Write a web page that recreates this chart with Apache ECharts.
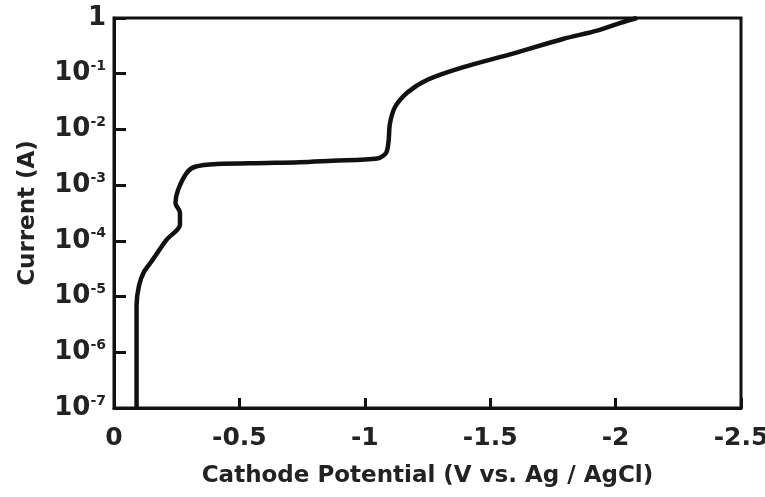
<!DOCTYPE html>
<html>
<head>
<meta charset="utf-8">
<script src="https://cdn.jsdelivr.net/npm/echarts@6/dist/echarts.min.js"></script>
<style>
  html, body { margin: 0; padding: 0; background: #fff; }
  #chart { width: 765px; height: 497px; }
</style>
</head>
<body>
<div id="chart"></div>
<script>
// cathode potential (V vs. Ag/AgCl) and current (A)
var potential = [-0.09, -0.09, -0.1, -0.12, -0.15, -0.21, -0.263, -0.263, -0.245, -0.255, -0.29, -0.323,
  -0.41, -0.61, -0.74, -0.87, -1.05, -1.085, -1.095, -1.10, -1.12, -1.17, -1.25, -1.39,
  -1.59, -1.79, -1.93, -2.02, -2.085];
var current = [1e-7, 7e-6, 1.6e-5, 2.8e-5, 4.3e-5, 1.05e-4, 1.95e-4, 3.2e-4, 4.8e-4, 8.1e-4, 1.66e-3, 2.14e-3,
  2.4e-3, 2.5e-3, 2.58e-3, 2.75e-3, 3.0e-3, 3.8e-3, 6.3e-3, 1.26e-2, 2.5e-2, 4.6e-2, 7.8e-2, 0.13,
  0.23, 0.42, 0.6, 0.82, 1.0];

var xTicks = [0, -0.5, -1, -1.5, -2, -2.5];

var chart = echarts.init(document.getElementById("chart"));
var font = "DejaVu Sans";

var option = {
  animation: false,
  grid: {
    left: 114,
    right: 24,
    top: 18,
    bottom: 89,
    outerBoundsMode: "none",
    show: true,
    borderColor: "#111",
    borderWidth: 3,
  },
  xAxis: {
    type: "value",
    inverse: true,
    min: -2.5,
    max: 0,
    interval: 0.5,
    name: "Cathode Potential (V vs. Ag / AgCl)",
    nameLocation: "middle",
    nameGap: 57,
    nameTextStyle: { fontFamily: font, fontWeight: "bold", fontSize: 23, color: "#222" },
    axisLine: { show: true, lineStyle: { color: "#111", width: 3 } },
    axisTick: { show: true, inside: true, length: 10, lineStyle: { color: "#111", width: 3 } },
    splitLine: { show: false },
    axisLabel: {
      margin: 18,
      fontFamily: font,
      fontWeight: "bold",
      fontSize: 25,
      color: "#222",
      formatter: function (v) {
        return xTicks.indexOf(v) >= 0 ? String(v) : "";
      },
    },
  },
  yAxis: {
    type: "log",
    logBase: 10,
    min: 1e-7,
    max: 1,
    name: "Current (A)",
    nameLocation: "middle",
    nameGap: 74,
    nameTextStyle: { fontFamily: font, fontWeight: "bold", fontSize: 23, color: "#222" },
    axisLine: { show: true, lineStyle: { color: "#111", width: 3 } },
    axisTick: { show: true, inside: true, length: 12, lineStyle: { color: "#111", width: 3 } },
    splitLine: { show: false },
    axisLabel: {
      margin: 8,
      color: "#222",
      formatter: function (v) {
        var e = Math.round(Math.log10(v));
        if (e === 0) return "{b|1}";
        return "{b|10}{s|" + e + "}";
      },
      rich: {
        b: { fontFamily: font, fontWeight: "bold", fontSize: 26, color: "#222", lineHeight: 28 },
        s: { fontFamily: font, fontWeight: "bold", fontSize: 14, color: "#222", verticalAlign: "top", padding: [0, 0, 12, 0] },
      },
    },
  },
  series: [
    {
      type: "line",
      data: potential.map(function (p, i) { return [p, current[i]]; }),
      smooth: 0.3,
      showSymbol: false,
      lineStyle: { color: "#111", width: 4.5 },
    },
  ],
};

chart.setOption(option);
</script>
</body>
</html>
